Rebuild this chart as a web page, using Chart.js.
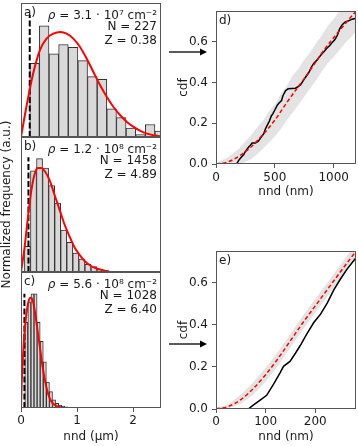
<!DOCTYPE html>
<html>
<head>
<meta charset="utf-8">
<script src="https://cdn.jsdelivr.net/npm/chart.js@4"></script>
<style>
  html, body { margin: 0; padding: 0; background: #fff; }
  #fig { position: relative; width: 358px; height: 446px; overflow: hidden; }
  #fig canvas, #fig svg { position: absolute; }
</style>
</head>
<body>
<div id="fig">
  <canvas id="histA" width="165" height="140" style="left:0;top:0"></canvas>
  <canvas id="histC" width="165" height="177" style="left:0;top:269px"></canvas>
  <canvas id="histB" width="165" height="446" style="left:0;top:0"></canvas>
  <canvas id="cdfD" width="193" height="200" style="left:165px;top:0"></canvas>
  <canvas id="cdfE" width="193" height="206" style="left:165px;top:240px"></canvas>
  <svg width="358" height="446" style="left:0;top:0">
    <line x1="169" y1="52" x2="201" y2="52" stroke="#000" stroke-width="1.3"/>
    <polygon points="200,48.5 207,52 200,55.5" fill="#000"/>
    <line x1="169" y1="344" x2="201" y2="344" stroke="#000" stroke-width="1.3"/>
    <polygon points="200,340.5 207,344 200,347.5" fill="#000"/>
  </svg>
</div>
<script>
  "use strict";

  // ---- histogram panels a–c (nnd in µm, heights normalized) ----
  const histTicks = [0, 1, 2];

  const binsA = [0.242, 0.414, 0.586, 0.758, 0.930, 1.102, 1.274, 1.446, 1.618, 1.790, 1.962, 2.134, 2.306, 2.478];
  const freqA = [0.55, 0.83, 0.62, 0.69, 0.67, 0.57, 0.45, 0.43, 0.21, 0.145, 0.067, 0.018, 0.093, 0.045];
  const fitXA = [0, 0.096, 0.216, 0.336, 0.456, 0.575, 0.707, 0.815, 0.934, 1.054, 1.174, 1.293, 1.413, 1.533, 1.652, 1.772, 1.892, 2.011, 2.131, 2.25, 2.37, 2.49];
  const fitYA = [0, 0.224, 0.472, 0.647, 0.734, 0.771, 0.784, 0.771, 0.734, 0.672, 0.584, 0.485, 0.386, 0.299, 0.224, 0.162, 0.112, 0.075, 0.045, 0.025, 0.013, 0.005];

  const binsB = [0.115, 0.223, 0.331, 0.439, 0.547, 0.655, 0.763, 0.871, 0.979, 1.087, 1.195, 1.303, 1.411, 1.519];
  const freqB = [0.19, 0.75, 0.84, 0.77, 0.64, 0.51, 0.31, 0.22, 0.14, 0.095, 0.057, 0.04, 0.02, 0.01];
  const fitXB = [0, 0.06, 0.12, 0.18, 0.24, 0.3, 0.36, 0.42, 0.51, 0.6, 0.69, 0.78, 0.87, 0.96, 1.05, 1.14, 1.23, 1.32, 1.44, 1.56];
  const fitYB = [0, 0.17, 0.39, 0.59, 0.72, 0.77, 0.77, 0.75, 0.68, 0.57, 0.46, 0.35, 0.26, 0.18, 0.125, 0.08, 0.05, 0.03, 0.015, 0.005];

  const binsC = [0.095, 0.150, 0.205, 0.260, 0.315, 0.370, 0.425, 0.480, 0.535, 0.590, 0.645, 0.700, 0.755, 0.810];
  const freqC = [0.63, 0.78, 0.84, 0.84, 0.63, 0.49, 0.34, 0.19, 0.12, 0.06, 0.035, 0.022, 0.015, 0.008];
  const fitXC = [0, 0.013, 0.048, 0.09, 0.133, 0.168, 0.21, 0.252, 0.288, 0.33, 0.372, 0.42, 0.467, 0.51, 0.557, 0.61, 0.69, 0.75];
  const fitYC = [0, 0.19, 0.47, 0.67, 0.78, 0.81, 0.79, 0.70, 0.59, 0.47, 0.34, 0.22, 0.13, 0.075, 0.04, 0.02, 0.007, 0];

  // dashed marker: minimum nnd [x, top]
  const minMarkA = [0.156, 0.91];
  const minMarkB = [0.133, 0.85];
  const minMarkC = [0.061, 0.84];

  const panelLabels = ["a)", "b)", "c)", "d)", "e)"];
  const densities = ["3.1 · 10⁷ cm⁻²", "1.2 · 10⁸ cm⁻²", "5.6 · 10⁸ cm⁻²"];
  const counts = ["227", "1458", "1028"];
  const zScores = ["0.38", "4.89", "6.40"];

  // ---- cdf panels d, e (nnd in nm) ----
  const cdfTicksY = [0, 0.2, 0.4, 0.6];

  const ticksXD = [0, 500, 1000];
  const nndD = [0, 175, 193, 216, 236, 250, 273, 292, 307, 335, 358, 377, 406, 420, 434, 454, 471, 483, 500, 520, 534, 557, 568, 591, 613, 675, 698, 718, 738, 761, 789, 812, 832, 860, 880, 903, 926, 945, 965, 988, 1011, 1031, 1050, 1073, 1096, 1130, 1158, 1190];
  const cdfD = [0, 0, 0.018, 0.034, 0.046, 0.062, 0.080, 0.092, 0.103, 0.103, 0.111, 0.126, 0.149, 0.172, 0.188, 0.211, 0.237, 0.246, 0.265, 0.288, 0.298, 0.311, 0.334, 0.360, 0.369, 0.372, 0.380, 0.388, 0.406, 0.426, 0.449, 0.477, 0.495, 0.511, 0.526, 0.542, 0.557, 0.570, 0.580, 0.596, 0.611, 0.631, 0.662, 0.684, 0.696, 0.704, 0.711, 0.715];
  const theoXD = [0, 100, 200, 300, 400, 500, 600, 700, 800, 900, 1000, 1100, 1190];
  const theoYD = [0, 0.01, 0.04, 0.085, 0.145, 0.215, 0.30, 0.38, 0.46, 0.545, 0.62, 0.69, 0.75];
  const bandXD = [0, 100, 200, 250, 300, 350, 400, 450, 500, 550, 600, 650, 700, 750, 800, 850, 900, 950, 1000, 1050, 1100, 1150, 1190];
  const bandHiD = [0.005, 0.032, 0.078, 0.112, 0.142, 0.18, 0.212, 0.258, 0.292, 0.343, 0.382, 0.433, 0.468, 0.512, 0.548, 0.593, 0.632, 0.678, 0.712, 0.752, 0.785, 0.815, 0.85];
  const bandLoD = [0, 0, 0, 0.01, 0.025, 0.048, 0.075, 0.105, 0.135, 0.17, 0.215, 0.25, 0.29, 0.33, 0.37, 0.41, 0.455, 0.495, 0.525, 0.56, 0.595, 0.625, 0.65];

  const ticksXE = [0, 100, 200];
  const nndE = [0, 65, 75, 89, 102, 116, 129, 136, 149, 160, 170, 183, 197, 210, 224, 237, 251, 264, 282];
  const cdfE = [0, 0, 0.018, 0.042, 0.065, 0.118, 0.172, 0.203, 0.226, 0.265, 0.303, 0.357, 0.411, 0.449, 0.503, 0.565, 0.619, 0.665, 0.719];
  const theoXE = [0, 25, 50, 75, 100, 125, 150, 175, 200, 225, 250, 282];
  const theoYE = [0, 0.012, 0.045, 0.097, 0.163, 0.24, 0.325, 0.41, 0.49, 0.57, 0.65, 0.75];
  const bandHiE = [0.003, 0.022, 0.068, 0.127, 0.196, 0.272, 0.358, 0.443, 0.523, 0.603, 0.683, 0.785];
  const bandLoE = [0, 0.004, 0.025, 0.068, 0.13, 0.207, 0.292, 0.377, 0.457, 0.537, 0.617, 0.715];

  Chart.defaults.font.family = '"DejaVu Sans", sans-serif';
  Chart.defaults.font.size = 12;
  Chart.defaults.color = "#1a1a1a";

  const xy = (xs, ys) => xs.map((x, i) => ({ x, y: ys[i] }));
  const setTicks = (vals) => (s) => { s.ticks = vals.map((v) => ({ value: v })); };

  // axes box like matplotlib spines
  const frame = {
    id: "frame",
    afterDatasetsDraw(chart) {
      const { ctx, chartArea: a } = chart;
      ctx.save();
      ctx.strokeStyle = "#555";
      ctx.lineWidth = 1;
      ctx.strokeRect(Math.round(a.left) + 0.5, Math.round(a.top) + 0.5,
        Math.round(a.right - a.left) - 1, Math.round(a.bottom - a.top) - 1);
      ctx.restore();
    },
  };

  // panel letter + rho / N / Z annotation
  const panelText = {
    id: "panelText",
    afterDraw(chart, args, opts) {
      if (!opts || !opts.label) return;
      const { ctx, chartArea: a } = chart;
      ctx.save();
      ctx.fillStyle = "#1a1a1a";
      ctx.textBaseline = "middle";
      ctx.font = '12px "DejaVu Sans"';
      ctx.textAlign = "left";
      ctx.fillText(opts.label, a.left + 3, a.top + 10);
      if (opts.rho) {
        const x = a.right - 4;
        const rest = " = " + opts.rho;
        ctx.textAlign = "right";
        ctx.fillText(rest, x, a.top + 13);
        const w = ctx.measureText(rest).width;
        ctx.font = 'italic 12px "DejaVu Sans"';
        ctx.fillText("ρ", x - w, a.top + 13);
        ctx.font = '12px "DejaVu Sans"';
        ctx.fillText("N = " + opts.n, x, a.top + 24);
        ctx.fillText("Z = " + opts.z, x, a.top + 37.5);
      }
      ctx.restore();
    },
  };

  function histogram(id, bins, freq, fitX, fitY, mark, text, p) {
    const xScale = {
      type: "linear", min: 0, max: 2.5, offset: false, display: !!p.showX,
      afterBuildTicks: setTicks(histTicks),
      grid: { offset: false, drawOnChartArea: false, tickLength: 4, color: "#555" },
      border: { display: false },
      ticks: { padding: 2, maxRotation: 0 },
      title: { display: true, text: "nnd (μm)", padding: { top: 0, bottom: 2 } },
    };
    if (p.showX) xScale.afterFit = (s) => { s.height = 38; };

    const yScale = {
      min: 0, max: 1, display: !!p.showY,
      grid: { display: false }, border: { display: false },
      ticks: { display: false },
      title: { display: true, text: "Normalized frequency (a.u.)", padding: 0 },
    };
    if (p.showY) yScale.afterFit = (s) => { s.width = 21; };

    return new Chart(document.getElementById(id), {
      type: "bar",
      data: {
        datasets: [
          {
            type: "line", data: xy(fitX, fitY), borderColor: "#ff0000", borderWidth: 2,
            pointRadius: 0, cubicInterpolationMode: "monotone", order: 0,
          },
          {
            type: "line", data: [{ x: mark[0], y: 0 }, { x: mark[0], y: mark[1] }],
            borderColor: "#000", borderWidth: 2, borderDash: [6, 2.5], pointRadius: 0, order: 1,
          },
          {
            data: xy(bins, freq), backgroundColor: "#d9d9d9", borderColor: "#333",
            borderWidth: 1, borderSkipped: false, barPercentage: 1, categoryPercentage: 1, order: 2,
          },
        ],
      },
      options: {
        responsive: false, animation: false, devicePixelRatio: 1,
        layout: { padding: p.padding },
        plugins: { legend: { display: false }, tooltip: { enabled: false }, panelText: text },
        scales: { x: xScale, y: yScale },
      },
      plugins: [frame, panelText],
    });
  }

  function cdfPanel(id, nnd, cdf, theoX, theoY, bandX, hi, lo, xMax, xTicks, text, p) {
    const tickGrid = { drawOnChartArea: false, tickLength: 4, color: "#555" };
    return new Chart(document.getElementById(id), {
      type: "line",
      data: {
        datasets: [
          { data: xy(theoX, theoY), borderColor: "#ff0000", borderWidth: 1.5, borderDash: [4, 2.5], cubicInterpolationMode: "monotone", order: 0 },
          { data: xy(nnd, cdf), borderColor: "#000", borderWidth: 1.5, order: 1 },
          { data: xy(bandX, hi), borderColor: "rgba(0,0,0,0)", borderWidth: 0, backgroundColor: "#e3e3e3", fill: "+1", order: 2 },
          { data: xy(bandX, lo), borderColor: "rgba(0,0,0,0)", borderWidth: 0, fill: false, order: 3 },
        ],
      },
      options: {
        responsive: false, animation: false, devicePixelRatio: 1,
        elements: { point: { radius: 0 } },
        layout: { padding: p.padding },
        plugins: { legend: { display: false }, tooltip: { enabled: false }, panelText: text },
        scales: {
          x: {
            type: "linear", min: 0, max: xMax,
            afterBuildTicks: setTicks(xTicks),
            afterFit: (s) => { s.height = p.xAxisH; },
            grid: tickGrid, border: { display: false },
            ticks: { padding: p.xTickPad, maxRotation: 0, callback: (v) => String(v) },
            title: { display: true, text: "nnd (nm)", padding: { top: 0, bottom: p.titlePad } },
          },
          y: {
            min: 0, max: 0.75,
            afterBuildTicks: setTicks(cdfTicksY),
            afterFit: (s) => { s.width = 51; },
            grid: tickGrid, border: { display: false },
            ticks: { padding: 4, callback: (v) => v.toFixed(1) },
            title: { display: true, text: "cdf", padding: { top: 12, bottom: 0 } },
          },
        },
      },
      plugins: [frame, panelText],
    });
  }

  const hText = (i) => ({ label: panelLabels[i], rho: densities[i], n: counts[i], z: zScores[i] });

  histogram("histA", binsA, freqA, fitXA, fitYA, minMarkA, hText(0),
    { padding: { left: 21, top: 3, right: 4, bottom: 3 } });
  histogram("histB", binsB, freqB, fitXB, fitYB, minMarkB, hText(1),
    { padding: { left: 0, top: 137, right: 4, bottom: 174 }, showY: true });
  histogram("histC", binsC, freqC, fitXC, fitYC, minMarkC, hText(2),
    { padding: { left: 21, top: 3, right: 4, bottom: 0 }, showX: true });

  cdfPanel("cdfD", nndD, cdfD, theoXD, theoYD, bandXD, bandHiD, bandLoD, 1190, ticksXD,
    { label: panelLabels[3] },
    { padding: { left: 0, top: 2, right: 2, bottom: 0 }, xAxisH: 36, xTickPad: 3, titlePad: 1 });
  cdfPanel("cdfE", nndE, cdfE, theoXE, theoYE, theoXE, bandHiE, bandLoE, 282, ticksXE,
    { label: panelLabels[4] },
    { padding: { left: 0, top: 6, right: 2, bottom: 0 }, xAxisH: 37, xTickPad: 2, titlePad: 2 });
</script>
</body>
</html>
